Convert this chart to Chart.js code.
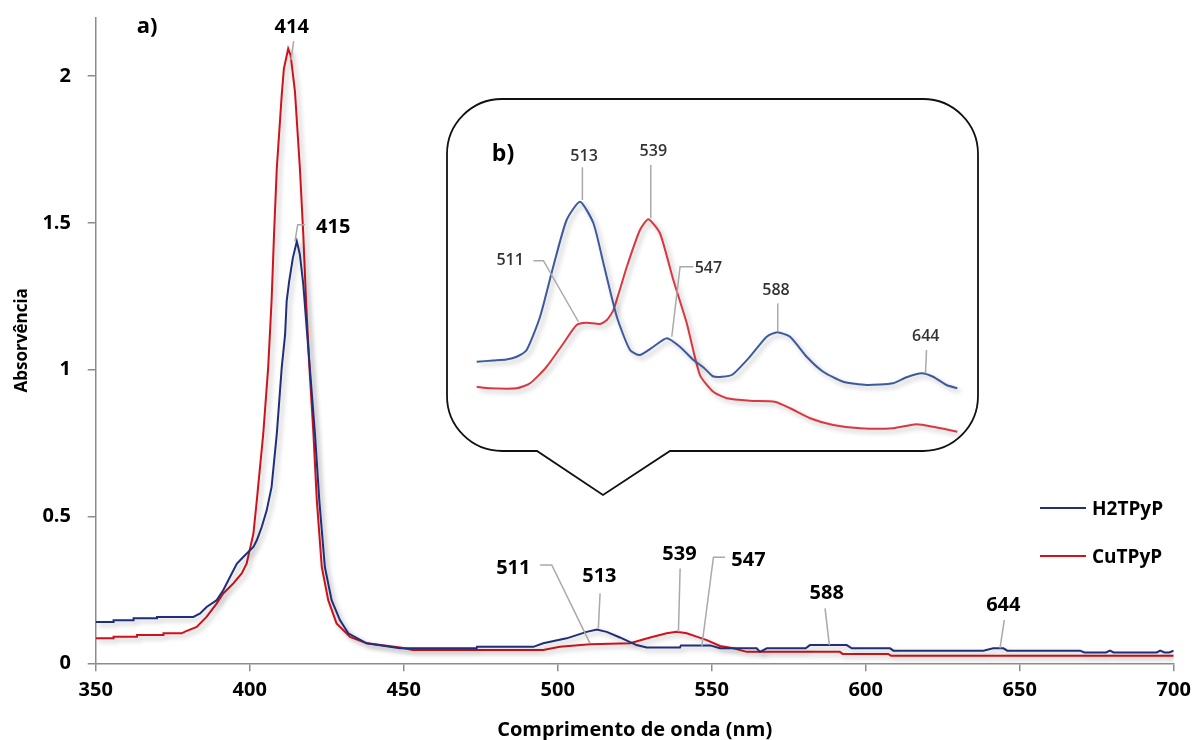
<!DOCTYPE html>
<html><head><meta charset="utf-8">
<script src="https://cdn.jsdelivr.net/npm/chart.js@4.4.0/dist/chart.umd.min.js"></script>
<style>
html,body{margin:0;padding:0;background:#fff;}
#wrap{position:relative;width:1197px;height:740px;background:#fff;}
#main{position:absolute;left:0;top:0;width:1197px;height:740px;}
#inset{position:absolute;left:440px;top:90px;width:545px;height:415px;}
</style></head><body>
<div id="wrap"><canvas id="main" width="1197" height="740"></canvas><canvas id="inset" width="545" height="415"></canvas></div>
<script>
// ---------- data ----------
const seriesNames = ['H2TPyP', 'CuTPyP'];
const xTicks = [350, 400, 450, 500, 550, 600, 650, 700];
const yTicks = [0, 0.5, 1, 1.5, 2];

const h2Wavelength = [350,355.7,355.8,362.2,362.3,369.8,369.9,381.7,383.9,386,389.3,391.4,393.6,395.8,397.9,401.2,402.3,403.9,405.5,407.1,408.8,410.4,411.5,412,412.8,414,415.3,416.3,417.4,418.5,421.2,422.6,424.4,426.6,429.3,432,438,448.8,473.7,473.8,492.1,495.3,502.9,509.4,512.7,515.9,520.2,525.6,528.9,539.7,540,549.5,552.7,564.6,565.7,567.9,580.5,581.9,593.8,595.5,607.9,609,638.2,641.4,644.7,646,669.6,671,678,679.3,680.5,694.5,695.6,697,698.5,700];
const h2Absorbance = [0.141,0.141,0.147,0.147,0.153,0.153,0.158,0.158,0.17,0.192,0.215,0.249,0.294,0.339,0.362,0.396,0.419,0.464,0.52,0.6,0.781,1.007,1.12,1.233,1.30,1.38,1.437,1.392,1.29,1.143,0.781,0.554,0.328,0.215,0.147,0.102,0.068,0.051,0.051,0.056,0.056,0.068,0.085,0.107,0.115,0.107,0.088,0.062,0.054,0.054,0.061,0.061,0.051,0.051,0.039,0.051,0.051,0.062,0.062,0.051,0.051,0.043,0.043,0.051,0.051,0.043,0.043,0.037,0.037,0.043,0.037,0.037,0.043,0.037,0.037,0.043];

const cuWavelength = [350,355.7,355.8,363.3,363.4,371.9,372,377.9,379,382.8,386,389.3,391.4,394.7,397.4,399,401.2,402.3,404.4,406,407.1,407.9,408.8,410.4,411.1,412.5,413.3,414.7,416.3,417.4,418.3,419.4,420.7,421.8,423.4,425.5,428.2,432.6,438,448.8,453,495.3,500.7,510.5,523.5,530,535.4,538.6,541.9,545.1,548.4,552.7,557,561.4,591.6,592.5,607.3,608.2,700];
const cuAbsorbance = [0.085,0.085,0.09,0.09,0.096,0.096,0.102,0.102,0.108,0.124,0.158,0.204,0.238,0.272,0.306,0.339,0.441,0.554,0.781,1.007,1.233,1.46,1.686,1.935,2.025,2.093,2.07,1.946,1.686,1.46,1.233,1.007,0.781,0.554,0.328,0.215,0.136,0.09,0.068,0.054,0.045,0.045,0.056,0.065,0.068,0.088,0.102,0.107,0.102,0.091,0.079,0.059,0.051,0.039,0.039,0.032,0.032,0.026,0.026];

// inset (b): zoomed Q-band region, relative signal
const insetH2Wavelength = [473.7,480,485,488.9,492.7,497.8,502.8,507.9,513,518.1,521.9,527,532,535.8,540.9,546,551,556.1,560,563.5,567,571,577.6,584,588,592.9,599.2,605.5,613.1,622,632.1,637.2,642.9,647.3,652.4,656.5];
const insetH2Signal = [0.313,0.318,0.322,0.333,0.36,0.493,0.693,0.88,0.953,0.867,0.707,0.493,0.36,0.34,0.373,0.407,0.373,0.32,0.29,0.255,0.253,0.262,0.333,0.413,0.431,0.413,0.333,0.273,0.233,0.22,0.227,0.251,0.267,0.253,0.22,0.207];
const insetCuWavelength = [473.7,478.8,488.9,494,500.3,506.7,511.7,515.5,520.6,523.2,525.7,530.8,535.8,539,543.4,548.5,553.6,558.6,563.7,568.8,577.6,587.1,592.9,600.5,609.3,619.5,632.1,641,647.3,656.5];
const insetCuSignal = [0.213,0.207,0.207,0.227,0.293,0.387,0.46,0.469,0.464,0.48,0.52,0.693,0.84,0.883,0.827,0.64,0.467,0.26,0.193,0.167,0.157,0.153,0.127,0.087,0.06,0.047,0.047,0.063,0.053,0.033];

// peak labels
const mainPeakLabels = ['414','415','511','513','539','547','588','644'];
const mainPeakWavelength = [413.4,414.7,510.5,513.2,539.2,546.8,588.2,643.6];
const mainPeakAbsorbance = [2.054,1.437,0.068,0.119,0.107,0.059,0.062,0.051];
const insetPeakLabels = ['513','539','511','547','588','644'];
const insetPeakWavelength = [513.9,539.9,512.4,547.9,588.2,644.4];
const insetPeakSignal = [0.96,0.887,0.473,0.413,0.433,0.267];

// ---------- layout / style ----------
const FONT = '"Open Sans", "DejaVu Sans", sans-serif';
const mainColors = ['#1f2f78', '#d0121b'];
const insetColors = ['#3d5a9c', '#d8383f'];
const mainLeaderPaths = [[[2.7,-19]],[[2.7,-16.7],[10,-16.7]],[[-38.3,-78.3],[-50,-78.3]],[[1.7,-35]],[[1.7,-63.4]],[[11.6,-88.7],[23.3,-88.7]],[[-4.3,-36.7]],[[4.3,-28.3]]];
const mainTextOffsets = [[0.7,-33.3],[38.3,-14],[-76.7,-75],[1,-52.3],[1,-77.7],[46.6,-85.3],[-2.6,-51.7],[3.3,-43.3]];
const insetLeaderPaths = [[[0,-32.7]],[[0,-53.3]],[[-35,-61],[-45,-61]],[[8.3,-70],[21.6,-70]],[[0,-28.4]],[[1,-23.3]]];
const insetTextOffsets = [[1.7,-43.3],[2.6,-66.6],[-68.3,-61],[36.6,-68.4],[-1.7,-41.7],[0.3,-36.6]];

function toPoints(xs, ys){ return xs.map((v,i)=>({x:v, y:ys[i]})); }

const shadowPlugin = {
  id:'lineShadow',
  beforeDatasetDraw(chart){ const c=chart.ctx; c.save(); c.shadowColor='rgba(0,0,0,0.28)'; c.shadowBlur=5; c.shadowOffsetX=3; c.shadowOffsetY=3; },
  afterDatasetDraw(chart){ chart.ctx.restore(); }
};

function labelPlugin(id, texts, xs, ys, paths, offsets, font, color){
  return {
    id,
    afterDatasetsDraw(chart){
      const ctx = chart.ctx, sx = chart.scales.x, sy = chart.scales.y;
      ctx.save();
      texts.forEach((t,i)=>{
        const ax = sx.getPixelForValue(xs[i]), ay = sy.getPixelForValue(ys[i]);
        ctx.beginPath(); ctx.moveTo(ax, ay);
        paths[i].forEach(p=>ctx.lineTo(ax+p[0], ay+p[1]));
        ctx.strokeStyle = '#a9a9a9'; ctx.lineWidth = 1.5; ctx.stroke();
        ctx.font = font; ctx.fillStyle = color; ctx.textAlign='center'; ctx.textBaseline='middle';
        ctx.fillText(t, ax+offsets[i][0], ay+offsets[i][1]);
      });
      ctx.restore();
    }
  };
}

const bgPlugin = {
  id:'whiteBg',
  beforeDraw(chart){ const c=chart.ctx; c.save(); c.fillStyle='#fff'; c.fillRect(0,0,chart.width,chart.height); c.restore(); }
};

const legendPlugin = {
  id:'sideLegend',
  afterDraw(chart){
    const ctx = chart.ctx;
    ctx.save();
    chart.data.datasets.forEach((ds,i)=>{
      const y = 508 + i*48;
      ctx.strokeStyle = ds.borderColor; ctx.lineWidth = 2;
      ctx.beginPath(); ctx.moveTo(1040,y); ctx.lineTo(1086,y); ctx.stroke();
      ctx.fillStyle = '#000'; ctx.font = 'bold 19px ' + FONT; ctx.textAlign='left'; ctx.textBaseline='middle';
      ctx.fillText(ds.label, 1092, y+2);
    });
    ctx.font = 'bold 22px ' + FONT; ctx.textAlign='center';
    ctx.fillText('a)', 147, 27);
    ctx.restore();
  }
};

new Chart(document.getElementById('main'), {
  type:'line',
  data:{ datasets:[
    {label:seriesNames[0], data:toPoints(h2Wavelength,h2Absorbance), borderColor:mainColors[0], borderWidth:2, pointRadius:0, tension:0, fill:false},
    {label:seriesNames[1], data:toPoints(cuWavelength,cuAbsorbance), borderColor:mainColors[1], borderWidth:2, pointRadius:0, tension:0, fill:false}
  ]},
  options:{
    responsive:false, animation:false, devicePixelRatio:1,
    layout:{padding:{left:0, top:17.3, right:23.3, bottom:0}},
    plugins:{legend:{display:false}, tooltip:{enabled:false}},
    scales:{
      x:{type:'linear', min:350, max:700,
        afterFit(s){ s.height = 76.7; s.paddingLeft = 0; s.paddingRight = 0; },
        afterBuildTicks(s){ s.ticks = xTicks.map(v=>({value:v})); },
        ticks:{color:'#000', font:{family:FONT, size:20, weight:'bold'}, padding:7, maxRotation:0, callback:v=>String(v)},
        grid:{drawOnChartArea:false, drawTicks:true, tickLength:8, color:'#8c8c8c', lineWidth:1.5},
        border:{display:true, color:'#8c8c8c', width:1.5},
        title:{display:true, text:'Comprimento de onda (nm)', color:'#000', font:{family:FONT, size:20, weight:'bold', lineHeight:1}, padding:{top:0,bottom:0}}
      },
      y:{type:'linear', min:0, max:2.2,
        afterFit(s){ s.width = 95.7; s.paddingTop = 0; s.paddingBottom = 0; },
        afterBuildTicks(s){ s.ticks = yTicks.map(v=>({value:v})); },
        ticks:{color:'#000', font:{family:FONT, size:20, weight:'bold'}, padding:16.7, callback:v=>String(v)},
        grid:{drawOnChartArea:false, drawTicks:true, tickLength:8, color:'#8c8c8c', lineWidth:1.5},
        border:{display:true, color:'#8c8c8c', width:1.5},
        title:{display:true, text:'Absorvência', color:'#000', font:{family:FONT, size:17, weight:'bold', lineHeight:1.2}, padding:{top:11.8,bottom:0}}
      }
    }
  },
  plugins:[bgPlugin, shadowPlugin, legendPlugin,
    labelPlugin('mainPeaks', mainPeakLabels, mainPeakWavelength, mainPeakAbsorbance, mainLeaderPaths, mainTextOffsets, 'bold 20px ' + FONT, '#000')]
});

const calloutPlugin = {
  id:'callout',
  beforeDraw(chart){
    const ctx = chart.ctx;
    const L=7, T=9, R=538, B=361, r=55, x1=97, x2=230, tx=163, ty=405;
    ctx.save();
    ctx.beginPath();
    ctx.moveTo(L+r, T); ctx.lineTo(R-r, T); ctx.arcTo(R,T,R,T+r,r);
    ctx.lineTo(R, B-r); ctx.arcTo(R,B,R-r,B,r);
    ctx.lineTo(x2,B); ctx.lineTo(tx,ty); ctx.lineTo(x1,B);
    ctx.lineTo(L+r,B); ctx.arcTo(L,B,L,B-r,r);
    ctx.lineTo(L,T+r); ctx.arcTo(L,T,L+r,T,r); ctx.closePath();
    ctx.fillStyle='#fff'; ctx.fill();
    ctx.strokeStyle='#111'; ctx.lineWidth=1.8; ctx.stroke();
    ctx.fillStyle='#000'; ctx.font='bold 23px ' + FONT; ctx.textAlign='center'; ctx.textBaseline='middle';
    ctx.fillText('b)', 63, 64);
    ctx.restore();
  }
};

new Chart(document.getElementById('inset'), {
  type:'line',
  data:{ datasets:[
    {label:seriesNames[0], data:toPoints(insetH2Wavelength,insetH2Signal), borderColor:insetColors[0], borderWidth:2, pointRadius:0, tension:0.2, fill:false, clip:false},
    {label:seriesNames[1], data:toPoints(insetCuWavelength,insetCuSignal), borderColor:insetColors[1], borderWidth:2, pointRadius:0, tension:0.2, fill:false, clip:false}
  ]},
  options:{
    responsive:false, animation:false, devicePixelRatio:1,
    layout:{padding:{left:36.7, right:27.7, top:100, bottom:65}},
    plugins:{legend:{display:false}, tooltip:{enabled:false}},
    scales:{
      x:{type:'linear', display:false, min:473.7, max:656.5},
      y:{type:'linear', display:false, min:0, max:1}
    }
  },
  plugins:[calloutPlugin, shadowPlugin,
    labelPlugin('insetPeaks', insetPeakLabels, insetPeakWavelength, insetPeakSignal, insetLeaderPaths, insetTextOffsets, '600 16px ' + FONT, '#333')]
});
</script>
</body></html>
